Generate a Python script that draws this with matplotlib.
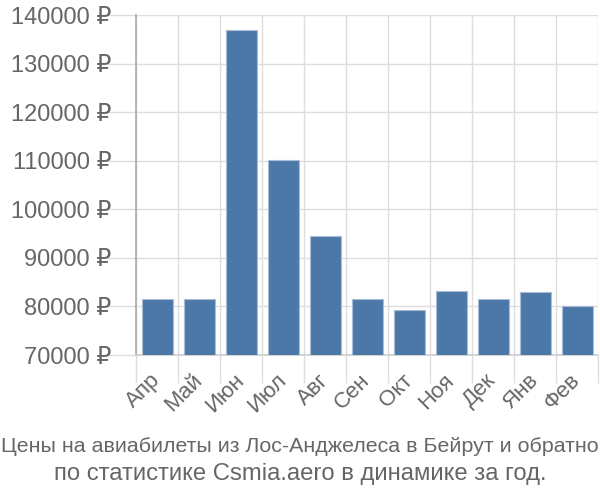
import matplotlib
matplotlib.use('Agg')
import matplotlib.pyplot as plt
import numpy as np

months = ['Апр', 'Май', 'Июн', 'Июл', 'Авг', 'Сен', 'Окт', 'Ноя', 'Дек', 'Янв', 'Фев']
prices = [81500, 81500, 136900, 110200, 94500, 81500, 79200, 83200, 81500, 83000, 80000]
yticks = [70000, 80000, 90000, 100000, 110000, 120000, 130000, 140000]
caption = ['Цены на авиабилеты из Лос-Анджелеса в Бейрут и обратно',
           'по статистике Csmia.aero в динамике за год.']

plt.rcParams['font.family'] = ['Liberation Sans', 'DejaVu Sans']

fig = plt.figure(figsize=(6, 5), dpi=100)
ax = fig.add_axes([0.227, 0.29, 0.77, 0.68])

x = np.arange(len(months))
ax.bar(x, prices, width=0.74, color='#4c78a8', edgecolor='#a9bdd6',
       linewidth=0.8, zorder=3)

ax.set_xlim(-0.5, len(months) - 0.5)
ax.set_ylim(70000, 140000)
ax.set_yticks(yticks)
ax.set_yticklabels([f'{v} ₽' for v in yticks], fontsize=17, color='#666666')

ax.set_xticks(x)
ax.set_xticklabels(months, rotation=45, ha='right', va='center',
                   rotation_mode='anchor', fontsize=16, color='#666666')
ax.set_xticks(np.arange(len(months) + 1) - 0.5, minor=True)

ax.tick_params(axis='x', which='major', length=0, pad=16)
ax.tick_params(axis='x', which='minor', length=20, color='#dddddd', width=1)
ax.tick_params(axis='y', length=20, color='#dddddd', width=1, pad=-2)

ax.grid(axis='y', color='#dddddd', lw=1, zorder=0)
ax.grid(axis='x', which='minor', color='#dddddd', lw=1, zorder=0)

for s in ['top', 'right']:
    ax.spines[s].set_visible(False)
ax.spines['left'].set_color('#aaaaaa')
ax.spines['left'].set_linewidth(1.2)
ax.spines['bottom'].set_color('#cccccc')
ax.spines['bottom'].set_linewidth(1.2)

fig.text(0.5, 1 - 447 / 500, caption[0], ha='center', va='center', fontsize=15.4, color='#666666')
fig.text(0.5, 1 - 474 / 500, caption[1], ha='center', va='center', fontsize=17.2, color='#666666')

fig.savefig('out.png', dpi=100)
